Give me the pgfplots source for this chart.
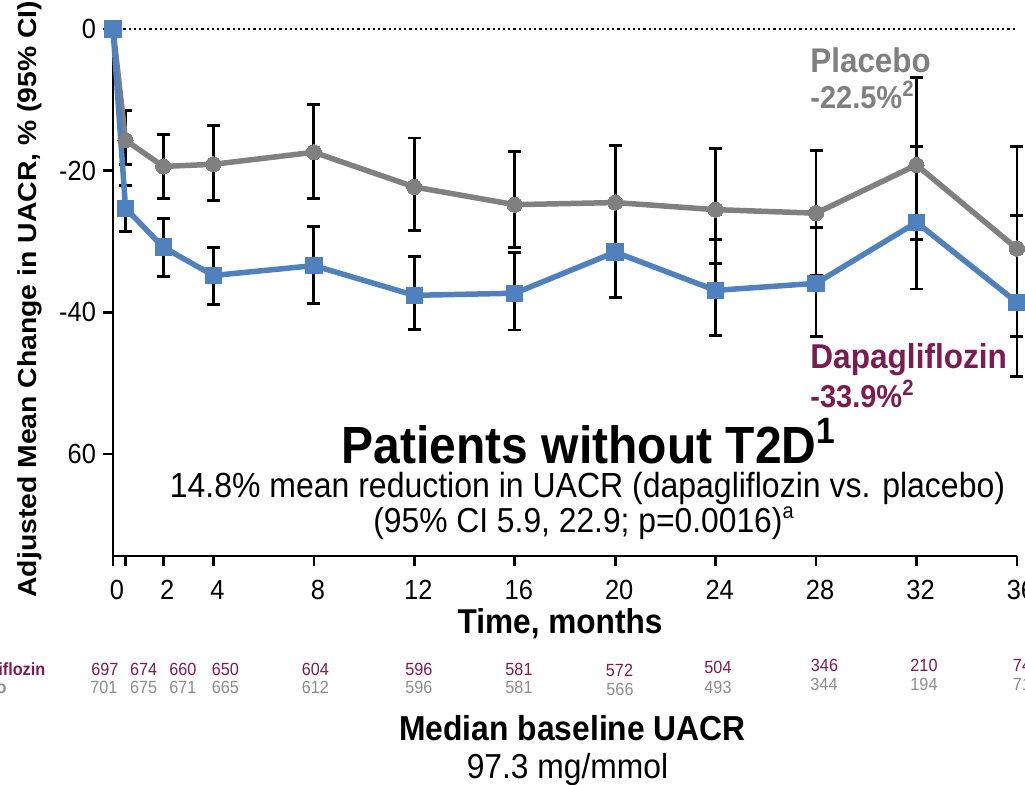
\documentclass[border=0pt]{standalone}
\usepackage{pgfplots}
\pgfplotsset{compat=1.18}
\usepackage{pgfplotstable}
\usepackage{graphicx}
\usepackage{fontspec}
\setmainfont{Liberation Sans}

\definecolor{plac}{HTML}{808080}
\definecolor{dapa}{HTML}{4F81BD}
\definecolor{dapatxt}{HTML}{7D1A52}
\definecolor{riskgrey}{HTML}{8C8C8C}

\newcommand{\vs}[1]{\scalebox{1}[1.09]{#1}}
\newcommand{\fs}[1]{\fontsize{#1}{#1}\selectfont}
% small raised note marker
\newcommand{\note}[2]{\raisebox{#1}{\fontsize{0.6\dimexpr\fontdimen6\font\relax}{1em}\selectfont #2}}

% adjusted mean change in UACR (%), upper / lower CI distances
\pgfplotstableread{
t    y      ep    em
0    0      0     0
0.5  -15.7  4.2   3.4
2    -19.4  4.5   4.5
4    -19.1  5.5   5.1
8    -17.4  6.7   6.5
12   -22.3  6.9   6.1
16   -24.8  7.5   6.0
20   -24.5  8.0   7.0
24   -25.5  8.6   7.6
28   -26.0  8.8   8.8
32   -19.2  12.3  10.5
36   -31.0  14.4  12.4
}\placebo

\pgfplotstableread{
t    y      ep    em
0    0      0     0
0.5  -25.3  3.2   3.3
2    -30.8  4.0   4.1
4    -34.8  4.0   4.1
8    -33.4  5.5   5.3
12   -37.6  5.5   4.8
16   -37.3  5.7   5.2
20   -31.5  7.3   6.4
24   -36.9  7.2   6.4
28   -35.9  7.9   7.5
32   -27.3  10.7  9.4
36   -38.6  12.3  10.5
}\dapagliflozin

\begin{document}
\begin{tikzpicture}
\begin{axis}[
  at={(0,0)}, anchor=south west,
  x=12.555pt, y=3.5415pt,
  xmin=0, xmax=36, ymin=-74.4, ymax=0,
  axis x line*=bottom, axis y line*=left,
  axis line style={line width=1.35pt, black, -},
  tick align=outside, major tick length=5pt,
  tick style={line width=1.35pt, black},
  xtick={0,0.5,2,4,8,12,16,20,24,28,32,36},
  xticklabels={\vs{0},,\vs{2},\vs{4},\vs{8},\vs{12},\vs{16},\vs{20},\vs{24},\vs{28},\vs{32},\vs{36}},
  ytick={0,-20,-40,-60},
  yticklabels={\vs{0},\vs{-20},\vs{-40},\vs{60}},
  ticklabel style={font=\fs{12.7pt}},
  xticklabel style={xshift=2pt, yshift=-3.5pt},
  clip=false,
  ci/.style={
    draw=none, mark=none, forget plot,
    error bars/y dir=both,
    error bars/y explicit,
    error bars/error mark=-,
    error bars/error bar style={line width=1.4pt, draw=black, solid},
    error bars/error mark options={rotate=90, draw=black, line width=1.4pt, mark size=3.25pt, solid},
  },
]
% reference line at zero change
\addplot[black, line width=1pt, dash pattern=on 1.1pt off 1.5pt, forget plot]
  coordinates {(0,0) (36,0)};

% placebo: confidence intervals, then mean line with markers
\addplot[ci]
  table[x=t, y=y, y error plus=ep, y error minus=em] {\placebo};
\addplot[plac, line width=2.75pt, mark=*, mark size=3.8pt,
  mark options={fill=plac, draw=plac, line width=0pt}]
  table[x=t, y=y] {\placebo};

% dapagliflozin: confidence intervals, then mean line with markers
\addplot[ci]
  table[x=t, y=y, y error plus=ep, y error minus=em] {\dapagliflozin};
\addplot[dapa, line width=2.75pt, mark=square*, mark size=4.1pt,
  mark options={fill=dapa, draw=dapa, line width=0pt}]
  table[x=t, y=y] {\dapagliflozin};
\end{axis}

\begin{scope}[x=0.5pt, y=-0.5pt, shift={(-113,-556)}]
  \node[rotate=90, anchor=base west, inner sep=0, font=\bfseries\fs{13pt}]
    at (36.7,598) {\scalebox{1.09}[1]{Adjusted Mean Change in UACR, \% (95\% CI)}};

  \node[anchor=base west, inner sep=0, text=plac, font=\bfseries\fs{15.7pt}]
    at (810,72.7) {\vs{Placebo}};
  \node[anchor=base west, inner sep=0, text=plac, font=\bfseries\fs{14.5pt}]
    at (810,108.3) {\vs{-22.5\%\textsuperscript{2}}};
  \node[anchor=base west, inner sep=0, text=dapatxt, font=\bfseries\fs{15.8pt}]
    at (810,368.3) {\vs{Dapagliflozin}};
  \node[anchor=base west, inner sep=0, text=dapatxt, font=\bfseries\fs{14.5pt}]
    at (810,407.3) {\vs{-33.9\%\textsuperscript{2}}};

  \node[anchor=base, inner sep=0, font=\bfseries\fs{24pt}]
    at (589,463.3) {\vs{Patients without T2D\textsuperscript{1}}};
  \node[anchor=base, inner sep=0, font=\fs{16pt}]
    at (587.5,497.3) {\vs{14.8\% mean reduction in UACR (dapagliflozin vs. placebo)}};
  \node[anchor=base, inner sep=0, font=\fs{15.9pt}]
    at (583.5,532.7) {\vs{(95\% CI 5.9, 22.9; p=0.0016)\raisebox{0.42em}{\fs{10pt}a}}};

  \node[anchor=base, inner sep=0, font=\bfseries\fs{15.8pt}]
    at (560,633.3) {\vs{Time, months}};

  % numbers at risk
  \node[anchor=base west, inner sep=0, text=dapatxt, font=\bfseries\fs{8.1pt}]
    at (-56,675) {\vs{Dapagliflozin}};
  \node[anchor=base west, inner sep=0, text=riskgrey, font=\bfseries\fs{8.1pt}]
    at (-56,693) {\vs{Placebo}};
  \foreach \xx/\yy/\n in {105/675/697, 143.7/675/674, 183/675/660, 225.5/675/650,
      315.5/675/604, 419/675/596, 519/675/581, 619.5/676/572, 718/673/504,
      824.5/671.7/346, 924/671.7/210, 1022/671.7/74}
    \node[anchor=base, inner sep=0, text=dapatxt, font=\fs{8.1pt}] at (\xx,\yy) {\vs{\n}};
  \foreach \xx/\yy/\n in {104/693/701, 143.7/693/675, 183/693/671, 225.5/693/665,
      315.5/693/612, 419/693/596, 519/693/581, 620/695/566, 718/693/493,
      824/690.7/344, 924/690.7/194, 1022/690.7/71}
    \node[anchor=base, inner sep=0, text=riskgrey, font=\fs{8.1pt}] at (\xx,\yy) {\vs{\n}};

  \node[anchor=base, inner sep=0, font=\bfseries\fs{15.9pt}]
    at (572.5,740) {\vs{Median baseline UACR}};
  \node[anchor=base, inner sep=0, font=\fs{15.9pt}]
    at (567.5,778.3) {\vs{97.3 mg/mmol}};

  \pgfresetboundingbox
  \path[use as bounding box] (0,0) rectangle (1025,784);
\end{scope}
\end{tikzpicture}
\end{document}
